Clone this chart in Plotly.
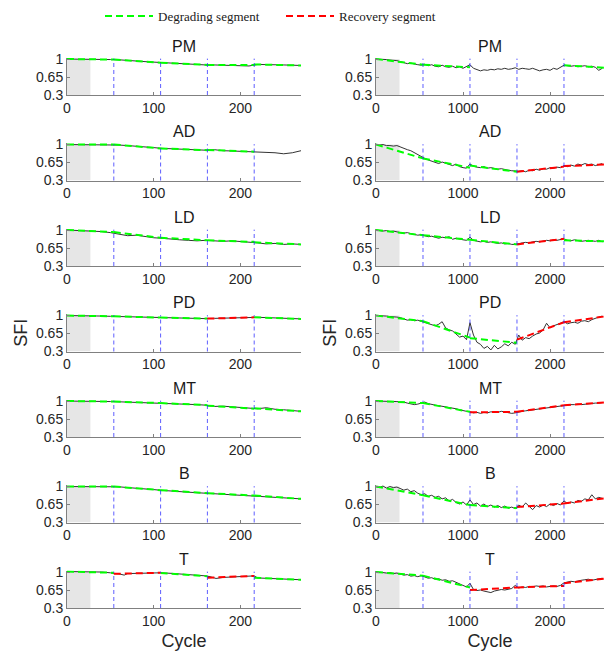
import plotly.graph_objects as go

PANELS = ["PM", "AD", "LD", "PD", "MT", "B", "T"]

# ---------- left column (x: cycle 0-270) ----------
XL = list(range(0, 271, 10))
PM_L = [1.00, 1.00, 1.00, 1.00, 0.995, 0.99, 0.985, 0.97, 0.96, 0.95, 0.94, 0.93, 0.92, 0.91,
        0.90, 0.895, 0.885, 0.885, 0.88, 0.885, 0.88, 0.865, 0.895, 0.895, 0.89, 0.885, 0.88, 0.875]
AD_L = [1.00, 1.00, 1.00, 1.00, 1.00, 1.00, 0.99, 0.98, 0.97, 0.96, 0.94, 0.925, 0.92, 0.91,
        0.90, 0.895, 0.89, 0.90, 0.88, 0.875, 0.87, 0.865, 0.86, 0.85, 0.84, 0.82, 0.84, 0.88]
LD_L = [1.00, 0.995, 0.99, 0.98, 0.97, 0.95, 0.92, 0.89, 0.90, 0.87, 0.85, 0.84, 0.82, 0.81,
        0.80, 0.79, 0.80, 0.79, 0.78, 0.79, 0.78, 0.77, 0.75, 0.73, 0.74, 0.72, 0.73, 0.72]
PD_L = [1.00, 1.00, 1.00, 0.995, 0.99, 0.985, 0.98, 0.975, 0.97, 0.965, 0.96, 0.955, 0.95, 0.945,
        0.945, 0.94, 0.94, 0.945, 0.95, 0.955, 0.96, 0.965, 0.965, 0.96, 0.955, 0.95, 0.945, 0.935]
MT_L = [1.00, 1.00, 1.00, 1.00, 0.995, 0.99, 0.985, 0.98, 0.975, 0.97, 0.965, 0.96, 0.95, 0.94,
        0.935, 0.93, 0.92, 0.895, 0.90, 0.89, 0.88, 0.865, 0.85, 0.87, 0.84, 0.83, 0.815, 0.80]
B_L = [1.00, 1.00, 1.00, 1.00, 1.00, 1.00, 0.995, 0.98, 0.97, 0.955, 0.94, 0.925, 0.91, 0.90,
       0.89, 0.88, 0.87, 0.865, 0.86, 0.85, 0.84, 0.83, 0.82, 0.81, 0.80, 0.785, 0.775, 0.76]
XL_T = [0, 10, 20, 30, 40, 50, 54, 60, 66, 70, 80, 90, 100, 108, 120, 130, 140, 150, 160, 165,
        172, 180, 190, 200, 210, 216, 220, 230, 240, 250, 260, 270]
T_L = [1.01, 1.01, 1.00, 1.00, 1.00, 0.985, 0.97, 0.965, 0.94, 0.97, 0.975, 0.98, 0.985, 0.985,
       0.975, 0.965, 0.955, 0.945, 0.925, 0.91, 0.875, 0.895, 0.905, 0.91, 0.92, 0.925, 0.885,
       0.88, 0.875, 0.865, 0.86, 0.85]

# segment fits: [x0, x1, y0, y1, kind]  D = degrading, R = recovery
PM_L_SEG = [[0, 54, 1.00, 0.99, "D"], [54, 108, 0.99, 0.93, "D"], [108, 162, 0.93, 0.885, "D"],
            [162, 216, 0.885, 0.885, "D"], [216, 270, 0.895, 0.875, "D"]]
AD_L_SEG = [[0, 54, 1.00, 1.00, "D"], [54, 108, 1.00, 0.925, "D"], [108, 162, 0.925, 0.89, "D"],
            [162, 216, 0.895, 0.86, "D"]]
LD_L_SEG = [[0, 54, 1.00, 0.96, "D"], [54, 108, 0.96, 0.85, "D"], [108, 162, 0.85, 0.80, "D"],
            [162, 216, 0.80, 0.77, "D"], [216, 270, 0.76, 0.72, "D"]]
PD_L_SEG = [[0, 54, 1.00, 0.985, "D"], [54, 108, 0.985, 0.96, "D"], [108, 162, 0.96, 0.94, "D"],
            [162, 216, 0.94, 0.965, "R"], [216, 270, 0.965, 0.935, "D"]]
MT_L_SEG = [[0, 54, 1.00, 0.99, "D"], [54, 108, 0.99, 0.96, "D"], [108, 162, 0.96, 0.92, "D"],
            [162, 216, 0.91, 0.85, "D"], [216, 270, 0.86, 0.80, "D"]]
B_L_SEG = [[0, 54, 1.00, 1.00, "D"], [54, 108, 1.00, 0.93, "D"], [108, 162, 0.93, 0.87, "D"],
           [162, 216, 0.87, 0.825, "D"], [216, 270, 0.825, 0.76, "D"]]
T_L_SEG = [[0, 54, 1.01, 0.985, "D"], [54, 108, 0.965, 0.985, "R"], [108, 162, 0.98, 0.92, "D"],
           [162, 216, 0.89, 0.925, "R"], [216, 270, 0.89, 0.85, "D"]]

# ---------- right column (x: cycle 0-2620) ----------
XR = list(range(0, 2601, 40))
PM_R = [1.00, 1.00, 0.99, 0.99, 0.98, 0.98, 0.97, 0.95, 0.93, 0.91, 0.92, 0.90, 0.89, 0.88, 0.90,
        0.87, 0.89, 0.86, 0.85, 0.88, 0.85, 0.84, 0.86, 0.83, 0.85, 0.82, 0.86, 0.89, 0.82, 0.80,
        0.77, 0.79, 0.78, 0.80, 0.79, 0.81, 0.80, 0.82, 0.80, 0.81, 0.83, 0.80, 0.82, 0.81, 0.80,
        0.82, 0.79, 0.77, 0.79, 0.80, 0.78, 0.82, 0.80, 0.84, 0.88, 0.87, 0.86, 0.87, 0.85, 0.86,
        0.87, 0.85, 0.86, 0.84, 0.78, 0.82]
AD_R = [1.00, 0.99, 1.00, 0.98, 0.98, 0.97, 0.98, 0.95, 0.93, 0.90, 0.88, 0.84, 0.80, 0.76, 0.73,
        0.70, 0.68, 0.65, 0.63, 0.66, 0.64, 0.61, 0.59, 0.62, 0.57, 0.55, 0.54, 0.62, 0.58, 0.56,
        0.55, 0.57, 0.54, 0.55, 0.53, 0.52, 0.53, 0.51, 0.50, 0.49, 0.48, 0.48, 0.49, 0.47, 0.50,
        0.49, 0.52, 0.50, 0.53, 0.52, 0.55, 0.54, 0.56, 0.55, 0.59, 0.57, 0.60, 0.58, 0.62, 0.60,
        0.63, 0.61, 0.62, 0.59, 0.61, 0.63]
LD_R = [1.00, 0.99, 0.98, 0.99, 0.97, 0.98, 0.96, 0.95, 0.94, 0.95, 0.93, 0.92, 0.90, 0.91, 0.89,
        0.87, 0.88, 0.86, 0.84, 0.86, 0.85, 0.87, 0.82, 0.84, 0.82, 0.81, 0.80, 0.86, 0.80, 0.79,
        0.77, 0.78, 0.76, 0.77, 0.75, 0.74, 0.75, 0.73, 0.74, 0.72, 0.72, 0.74, 0.75, 0.76, 0.75,
        0.77, 0.78, 0.77, 0.79, 0.80, 0.79, 0.81, 0.80, 0.82, 0.83, 0.80, 0.79, 0.81, 0.80, 0.78,
        0.79, 0.80, 0.79, 0.78, 0.80, 0.77]
PD_R = [1.00, 1.00, 0.99, 0.99, 0.98, 0.98, 0.97, 0.96, 0.93, 0.91, 0.92, 0.90, 0.91, 0.89, 0.87,
        0.85, 0.82, 0.80, 0.83, 0.88, 0.76, 0.72, 0.70, 0.64, 0.58, 0.60, 0.53, 0.86, 0.62, 0.48,
        0.44, 0.36, 0.40, 0.33, 0.42, 0.35, 0.39, 0.45, 0.41, 0.48, 0.44, 0.62, 0.52, 0.57, 0.55,
        0.60, 0.64, 0.66, 0.72, 0.85, 0.76, 0.80, 0.82, 0.85, 0.88, 0.84, 0.86, 0.87, 0.85, 0.89,
        0.90, 0.88, 0.92, 0.95, 0.97, 0.99]
MT_R = [1.00, 1.00, 0.99, 1.00, 0.99, 1.00, 0.99, 0.98, 0.98, 0.96, 0.95, 0.93, 0.94, 0.96, 0.98,
        0.95, 0.93, 0.92, 0.91, 0.90, 0.89, 0.88, 0.87, 0.85, 0.83, 0.81, 0.80, 0.79, 0.77, 0.78,
        0.76, 0.78, 0.77, 0.79, 0.78, 0.78, 0.80, 0.79, 0.78, 0.76, 0.77, 0.79, 0.80, 0.81, 0.82,
        0.83, 0.84, 0.85, 0.86, 0.87, 0.88, 0.89, 0.90, 0.91, 0.92, 0.92, 0.93, 0.93, 0.94, 0.93,
        0.94, 0.95, 0.95, 0.96, 0.96, 0.97]
B_R = [1.00, 0.98, 1.01, 0.97, 1.00, 0.98, 0.99, 0.96, 0.93, 0.95, 0.90, 0.92, 0.87, 0.84, 0.86,
       0.81, 0.83, 0.79, 0.81, 0.76, 0.78, 0.72, 0.75, 0.69, 0.66, 0.70, 0.64, 0.74, 0.65, 0.68,
       0.62, 0.66, 0.61, 0.64, 0.60, 0.63, 0.59, 0.62, 0.58, 0.60, 0.57, 0.64, 0.60, 0.68, 0.62,
       0.55, 0.63, 0.60, 0.64, 0.61, 0.66, 0.63, 0.67, 0.64, 0.72, 0.67, 0.70, 0.68, 0.73, 0.71,
       0.76, 0.74, 0.84, 0.76, 0.79, 0.77]
T_R = [1.00, 1.00, 0.99, 0.98, 0.99, 0.97, 0.98, 0.96, 0.94, 0.95, 0.92, 0.93, 0.91, 0.93, 0.90,
       0.88, 0.89, 0.86, 0.87, 0.84, 0.85, 0.82, 0.83, 0.80, 0.77, 0.75, 0.71, 0.78, 0.66, 0.64,
       0.65, 0.63, 0.62, 0.60, 0.63, 0.64, 0.66, 0.65, 0.67, 0.68, 0.74, 0.69, 0.71, 0.70, 0.72,
       0.71, 0.73, 0.72, 0.73, 0.71, 0.72, 0.73, 0.72, 0.74, 0.79, 0.80, 0.82, 0.81, 0.83, 0.84,
       0.85, 0.86, 0.84, 0.85, 0.86, 0.88]

PM_R_SEG = [[0, 540, 1.00, 0.89, "D"], [540, 1080, 0.89, 0.84, "D"], [2160, 2620, 0.88, 0.83, "D"]]
AD_R_SEG = [[0, 540, 1.00, 0.73, "D"], [540, 1080, 0.73, 0.55, "D"], [1080, 1620, 0.59, 0.47, "D"],
            [1620, 2160, 0.47, 0.57, "R"], [2160, 2620, 0.58, 0.61, "R"]]
LD_R_SEG = [[0, 540, 1.00, 0.90, "D"], [540, 1080, 0.90, 0.81, "D"], [1080, 1620, 0.81, 0.72, "D"],
            [1620, 2160, 0.72, 0.83, "R"], [2160, 2620, 0.80, 0.78, "D"]]
PD_R_SEG = [[0, 540, 1.00, 0.89, "D"], [540, 1080, 0.89, 0.57, "D"], [1080, 1620, 0.56, 0.47, "D"],
            [1620, 2160, 0.53, 0.87, "R"], [2160, 2620, 0.87, 0.98, "R"]]
MT_R_SEG = [[0, 540, 1.00, 0.96, "D"], [540, 1080, 0.96, 0.79, "D"], [1080, 1620, 0.78, 0.79, "R"],
            [1620, 2160, 0.79, 0.92, "R"], [2160, 2620, 0.92, 0.97, "R"]]
B_R_SEG = [[0, 540, 1.00, 0.83, "D"], [540, 1080, 0.83, 0.64, "D"], [1080, 1620, 0.64, 0.58, "D"],
           [1620, 2160, 0.60, 0.67, "R"], [2160, 2620, 0.67, 0.77, "R"]]
T_R_SEG = [[0, 540, 1.00, 0.93, "D"], [540, 1080, 0.93, 0.70, "D"], [1080, 1620, 0.65, 0.70, "R"],
           [1620, 2160, 0.70, 0.73, "R"], [2160, 2620, 0.78, 0.87, "R"]]

LEFT_X = [XL, XL, XL, XL, XL, XL, XL_T]
LEFT_Y = [PM_L, AD_L, LD_L, PD_L, MT_L, B_L, T_L]
LEFT_SEG = [PM_L_SEG, AD_L_SEG, LD_L_SEG, PD_L_SEG, MT_L_SEG, B_L_SEG, T_L_SEG]
RIGHT_Y = [PM_R, AD_R, LD_R, PD_R, MT_R, B_R, T_R]
RIGHT_SEG = [PM_R_SEG, AD_R_SEG, LD_R_SEG, PD_R_SEG, MT_R_SEG, B_R_SEG, T_R_SEG]

LEFT_BOUNDS = [54, 108, 162, 216]
RIGHT_BOUNDS = [540, 1080, 1620, 2160]
LEFT_WARM, RIGHT_WARM = 27, 270
LEFT_RANGE, RIGHT_RANGE = [0, 270], [0, 2620]
Y_TICKS = [0.3, 0.65, 1]
Y_TICKTEXT = ["0.3", "0.65", "1"]

W, H = 609, 654
GREEN, RED = "#00ff00", "#ff0000"
DASH = "7px,4px"
SANS = "Liberation Sans, Arial, sans-serif"
SERIF = "Liberation Serif, Times New Roman, serif"

fig = go.Figure()
layout = {}
shapes = []
annotations = []

col_px = [(67, 301), (376, 604)]
legend_done = {"D": False, "R": False}

for i, name in enumerate(PANELS):
    top_px = 57.5 + 85.5 * i
    bot_px = 95 + 85.5 * i
    ydom = [1 - bot_px / H, 1 - top_px / H]
    for c in range(2):
        n = 2 * i + c + 1
        xa = "x" if n == 1 else f"x{n}"
        ya = "y" if n == 1 else f"y{n}"
        xkey = "xaxis" if n == 1 else f"xaxis{n}"
        ykey = "yaxis" if n == 1 else f"yaxis{n}"
        if c == 0:
            xs, ys, segs = LEFT_X[i], LEFT_Y[i], LEFT_SEG[i]
            bounds, warm, xr = LEFT_BOUNDS, LEFT_WARM, LEFT_RANGE
            xt = [0, 100, 200]
        else:
            xs, ys, segs = XR, RIGHT_Y[i], RIGHT_SEG[i]
            bounds, warm, xr = RIGHT_BOUNDS, RIGHT_WARM, RIGHT_RANGE
            xt = [0, 1000, 2000]

        fig.add_trace(go.Scatter(x=xs, y=ys, mode="lines", xaxis=xa, yaxis=ya,
                                 line=dict(color="#333333", width=1), showlegend=False,
                                 hoverinfo="skip"))
        for kind, color, label, lg in [("D", GREEN, "Degrading segment", "legend"),
                                       ("R", RED, "Recovery segment", "legend2")]:
            sx, sy = [], []
            for s in segs:
                if s[4] == kind:
                    sx += [s[0], s[1], None]
                    sy += [s[2], s[3], None]
            if not sx:
                continue
            show = not legend_done[kind]
            legend_done[kind] = True
            fig.add_trace(go.Scatter(x=sx, y=sy, mode="lines", xaxis=xa, yaxis=ya,
                                     line=dict(color=color, width=2, dash=DASH),
                                     name=label, showlegend=show, legend=lg,
                                     hoverinfo="skip"))

        x0p, x1p = col_px[c]
        layout[xkey] = dict(domain=[x0p / W, x1p / W], range=xr, anchor=ya, automargin=False,
                            tickvals=xt, ticks="inside", ticklen=3, tickcolor="#808080",
                            showline=True, linecolor="#808080", linewidth=1,
                            showgrid=False, zeroline=False,
                            tickfont=dict(family=SANS, size=14, color="#262626"))
        layout[ykey] = dict(domain=ydom, range=[0.3, 1.03], anchor=xa, automargin=False,
                            tickvals=Y_TICKS, ticktext=Y_TICKTEXT, ticks="inside",
                            ticklen=3, tickcolor="#808080",
                            showline=True, linecolor="#808080", linewidth=1,
                            showgrid=False, zeroline=False,
                            tickfont=dict(family=SANS, size=14, color="#262626"))
        if i == 3:
            layout[ykey]["title"] = dict(text="SFI", standoff=3,
                                         font=dict(family=SANS, size=18, color="#262626"))
        if i == 6:
            layout[xkey]["title"] = dict(text="Cycle", standoff=6,
                                         font=dict(family=SANS, size=18, color="#262626"))

        shapes.append(dict(type="rect", xref=xa, yref=ya, x0=0, x1=warm, y0=0.3, y1=1.0,
                           fillcolor="#e6e6e6", line=dict(width=0), layer="below"))
        for b in bounds:
            shapes.append(dict(type="line", xref=xa, yref=f"{ya} domain", x0=b, x1=b,
                               y0=0, y1=0.97, line=dict(color="rgba(40,40,255,0.75)", width=1,
                                                        dash="4px,3px"), layer="above"))
        annotations.append(dict(text=name, xref=f"{xa} domain", yref=f"{ya} domain",
                                x=0.5, y=1, xanchor="center", yanchor="bottom", yshift=1,
                                showarrow=False,
                                font=dict(family=SANS, size=16, color="#1a1a1a")))

fig.update_layout(
    width=W, height=H,
    margin=dict(l=0, r=0, t=0, b=0, autoexpand=False),
    plot_bgcolor="white", paper_bgcolor="white",
    shapes=shapes, annotations=annotations,
    legend=dict(orientation="h", x=100 / W, xanchor="left", y=1 - 16 / H, yanchor="middle",
                itemwidth=48,
                font=dict(family=SERIF, size=13, color="#1a1a1a"), bgcolor="rgba(0,0,0,0)"),
    legend2=dict(orientation="h", x=281 / W, xanchor="left", y=1 - 16 / H, yanchor="middle",
                 itemwidth=48,
                 font=dict(family=SERIF, size=13, color="#1a1a1a"), bgcolor="rgba(0,0,0,0)"),
    **layout,
)

fig.write_html("out.html", config={"displayModeBar": False},
               post_script="document.body.style.margin='0px';")
